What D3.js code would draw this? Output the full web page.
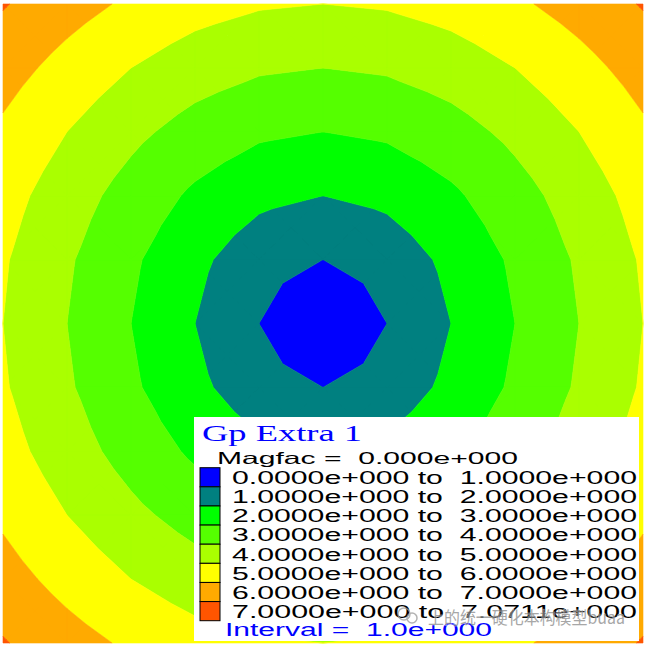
<!DOCTYPE html>
<html>
<head>
<meta charset="utf-8">
<script src="https://cdn.jsdelivr.net/npm/d3@7"></script>
<style>
  html, body { margin: 0; padding: 0; background: #ffffff; }
  svg { display: block; }
</style>
</head>
<body>
<script>
// ---- data ----
const xNodes = [-5, -4, -3, -2, -1, 0, 1, 2, 3, 4, 5];
const yNodes = [5, 4, 3, 2, 1, 0, -1, -2, -3, -4, -5];
// nodal values of "Gp Extra 1" (rows follow yNodes, columns follow xNodes)
const nodeValues = [
  [7.0711, 6.4031, 5.8310, 5.3852, 5.0990, 5.0000, 5.0990, 5.3852, 5.8310, 6.4031, 7.0711],
  [6.4031, 5.6569, 5.0000, 4.4721, 4.1231, 4.0000, 4.1231, 4.4721, 5.0000, 5.6569, 6.4031],
  [5.8310, 5.0000, 4.2426, 3.6056, 3.1623, 3.0000, 3.1623, 3.6056, 4.2426, 5.0000, 5.8310],
  [5.3852, 4.4721, 3.6056, 2.8284, 2.2361, 2.0000, 2.2361, 2.8284, 3.6056, 4.4721, 5.3852],
  [5.0990, 4.1231, 3.1623, 2.2361, 1.4142, 1.0000, 1.4142, 2.2361, 3.1623, 4.1231, 5.0990],
  [5.0000, 4.0000, 3.0000, 2.0000, 1.0000, 0.0000, 1.0000, 2.0000, 3.0000, 4.0000, 5.0000],
  [5.0990, 4.1231, 3.1623, 2.2361, 1.4142, 1.0000, 1.4142, 2.2361, 3.1623, 4.1231, 5.0990],
  [5.3852, 4.4721, 3.6056, 2.8284, 2.2361, 2.0000, 2.2361, 2.8284, 3.6056, 4.4721, 5.3852],
  [5.8310, 5.0000, 4.2426, 3.6056, 3.1623, 3.0000, 3.1623, 3.6056, 4.2426, 5.0000, 5.8310],
  [6.4031, 5.6569, 5.0000, 4.4721, 4.1231, 4.0000, 4.1231, 4.4721, 5.0000, 5.6569, 6.4031],
  [7.0711, 6.4031, 5.8310, 5.3852, 5.0990, 5.0000, 5.0990, 5.3852, 5.8310, 6.4031, 7.0711]
];
const levels = [0, 1, 2, 3, 4, 5, 6, 7, 7.0711];
const bandColors = ["#0000ff", "#008080", "#00ff00", "#55ff00", "#aaff00", "#ffff00", "#ffaa00", "#ff5500"];
const legendLabels = [
  "0.0000e+000 to  1.0000e+000",
  "1.0000e+000 to  2.0000e+000",
  "2.0000e+000 to  3.0000e+000",
  "3.0000e+000 to  4.0000e+000",
  "4.0000e+000 to  5.0000e+000",
  "5.0000e+000 to  6.0000e+000",
  "6.0000e+000 to  7.0000e+000",
  "7.0000e+000 to  7.0711e+000"
];
const legendTitle = "Gp Extra 1";
const magfacText = "Magfac =  0.000e+000";
const intervalText = "Interval =  1.0e+000";
const watermarkText = "上的统一硬化本构模型buaa";

// ---- drawing ----
const W = 646, H = 647;
const svg = d3.select("body").append("svg").attr("width", W).attr("height", H);

const x = d3.scaleLinear().domain([-5, 5]).range([3, 643]);
const y = d3.scaleLinear().domain([5, -5]).range([4, 643]);
const color = d3.scaleOrdinal().domain(d3.range(bandColors.length)).range(bandColors);

// Build triangles: each quad cell split into 4 triangles about its centre
const triangles = [];
for (let r = 0; r < yNodes.length - 1; r++) {
  for (let c = 0; c < xNodes.length - 1; c++) {
    const p00 = { x: xNodes[c], y: yNodes[r], v: nodeValues[r][c] };
    const p10 = { x: xNodes[c + 1], y: yNodes[r], v: nodeValues[r][c + 1] };
    const p11 = { x: xNodes[c + 1], y: yNodes[r + 1], v: nodeValues[r + 1][c + 1] };
    const p01 = { x: xNodes[c], y: yNodes[r + 1], v: nodeValues[r + 1][c] };
    const ctr = {
      x: (p00.x + p10.x) / 2, y: (p00.y + p01.y) / 2,
      v: (p00.v + p10.v + p11.v + p01.v) / 4
    };
    triangles.push([p00, p10, ctr], [p10, p11, ctr], [p11, p01, ctr], [p01, p00, ctr]);
  }
}

function clip(poly, t, above) {
  const out = [];
  const n = poly.length;
  for (let i = 0; i < n; i++) {
    const a = poly[i], b = poly[(i + 1) % n];
    const ina = above ? a.v >= t : a.v <= t;
    const inb = above ? b.v >= t : b.v <= t;
    if (ina) out.push(a);
    if (ina !== inb) {
      const s = (t - a.v) / (b.v - a.v);
      out.push({ x: a.x + s * (b.x - a.x), y: a.y + s * (b.y - a.y), v: t });
    }
  }
  return out;
}
function area(poly) {
  let s = 0;
  for (let i = 0; i < poly.length; i++) {
    const a = poly[i], b = poly[(i + 1) % poly.length];
    s += a.x * b.y - b.x * a.y;
  }
  return Math.abs(s / 2);
}

// one compound path per band (consistent winding -> no seams)
const bands = bandColors.map((c, k) => ({ band: k, polys: [] }));
triangles.forEach(tri => {
  for (let k = 0; k < levels.length - 1; k++) {
    const lo = k === 0 ? -Infinity : levels[k];
    const hi = k === levels.length - 2 ? Infinity : levels[k + 1];
    let p = tri;
    if (lo > -Infinity) p = clip(p, lo, true);
    if (p.length >= 3 && hi < Infinity) p = clip(p, hi, false);
    if (p.length >= 3 && area(p) > 1e-7) bands[k].polys.push(p);
  }
});

const line = d3.line().x(d => x(d.x)).y(d => y(d.y));
svg.append("g").selectAll("path").data(bands).join("path")
  .attr("d", d => d.polys.map(p => line(p) + "Z").join(""))
  .attr("fill", d => color(d.band))
  .attr("fill-rule", "nonzero")
  .attr("stroke", d => color(d.band))
  .attr("stroke-width", 0.6)
  .attr("stroke-linejoin", "round");

// ---- legend ----
const lg = svg.append("g");
lg.append("rect").attr("x", 194).attr("y", 417).attr("width", 445).attr("height", 224).attr("fill", "#ffffff");

lg.append("text").attr("x", 202).attr("y", 440.5)
  .attr("font-family", "'Liberation Serif', 'Times New Roman', serif")
  .attr("font-size", 24).attr("fill", "#0000ff")
  .attr("textLength", 160).attr("lengthAdjust", "spacingAndGlyphs")
  .text(legendTitle);

lg.append("text").attr("x", 217).attr("y", 464)
  .attr("font-family", "'Liberation Sans', Arial, sans-serif")
  .attr("font-size", 16.5).attr("fill", "#000000")
  .attr("textLength", 301).attr("lengthAdjust", "spacingAndGlyphs")
  .style("white-space", "pre")
  .text(magfacText);

const ly = d3.scaleLinear().domain([0, legendLabels.length]).range([467.7, 620.7]);
const rows = lg.selectAll("g.row").data(legendLabels).join("g").attr("class", "row");
rows.append("rect")
  .attr("x", 200).attr("y", (d, i) => ly(i))
  .attr("width", 20).attr("height", (d, i) => ly(i + 1) - ly(i))
  .attr("fill", (d, i) => color(i))
  .attr("stroke", "#000000").attr("stroke-width", 1);
rows.append("text")
  .attr("x", 232).attr("y", (d, i) => ly(i) + 16.3)
  .attr("font-family", "'Liberation Sans', Arial, sans-serif")
  .attr("font-size", 18).attr("fill", "#000000")
  .attr("textLength", 405).attr("lengthAdjust", "spacingAndGlyphs")
  .style("white-space", "pre")
  .text(d => d);

lg.append("text").attr("x", 225).attr("y", 636)
  .attr("font-family", "'Liberation Sans', Arial, sans-serif")
  .attr("font-size", 17.5).attr("fill", "#0000ff")
  .attr("textLength", 267).attr("lengthAdjust", "spacingAndGlyphs")
  .style("white-space", "pre")
  .text(intervalText);

// watermark overlay (as in the reference image)
const wm = svg.append("g").attr("opacity", 0.75);
wm.append("circle").attr("cx", 404).attr("cy", 614).attr("r", 6)
  .attr("fill", "none").attr("stroke", "#9a9a9a").attr("stroke-width", 1.5);
wm.append("circle").attr("cx", 412).attr("cy", 618).attr("r", 5)
  .attr("fill", "none").attr("stroke", "#9a9a9a").attr("stroke-width", 1.5);
wm.append("text").attr("x", 428).attr("y", 624)
  .attr("font-family", "'Noto Sans CJK SC', sans-serif")
  .attr("font-size", 17).attr("fill", "#8a8a8a")
  .attr("stroke", "#ffffff").attr("stroke-width", 0.6).attr("paint-order", "stroke")
  .attr("textLength", 197).attr("lengthAdjust", "spacingAndGlyphs")
  .text(watermarkText);
</script>
</body>
</html>
